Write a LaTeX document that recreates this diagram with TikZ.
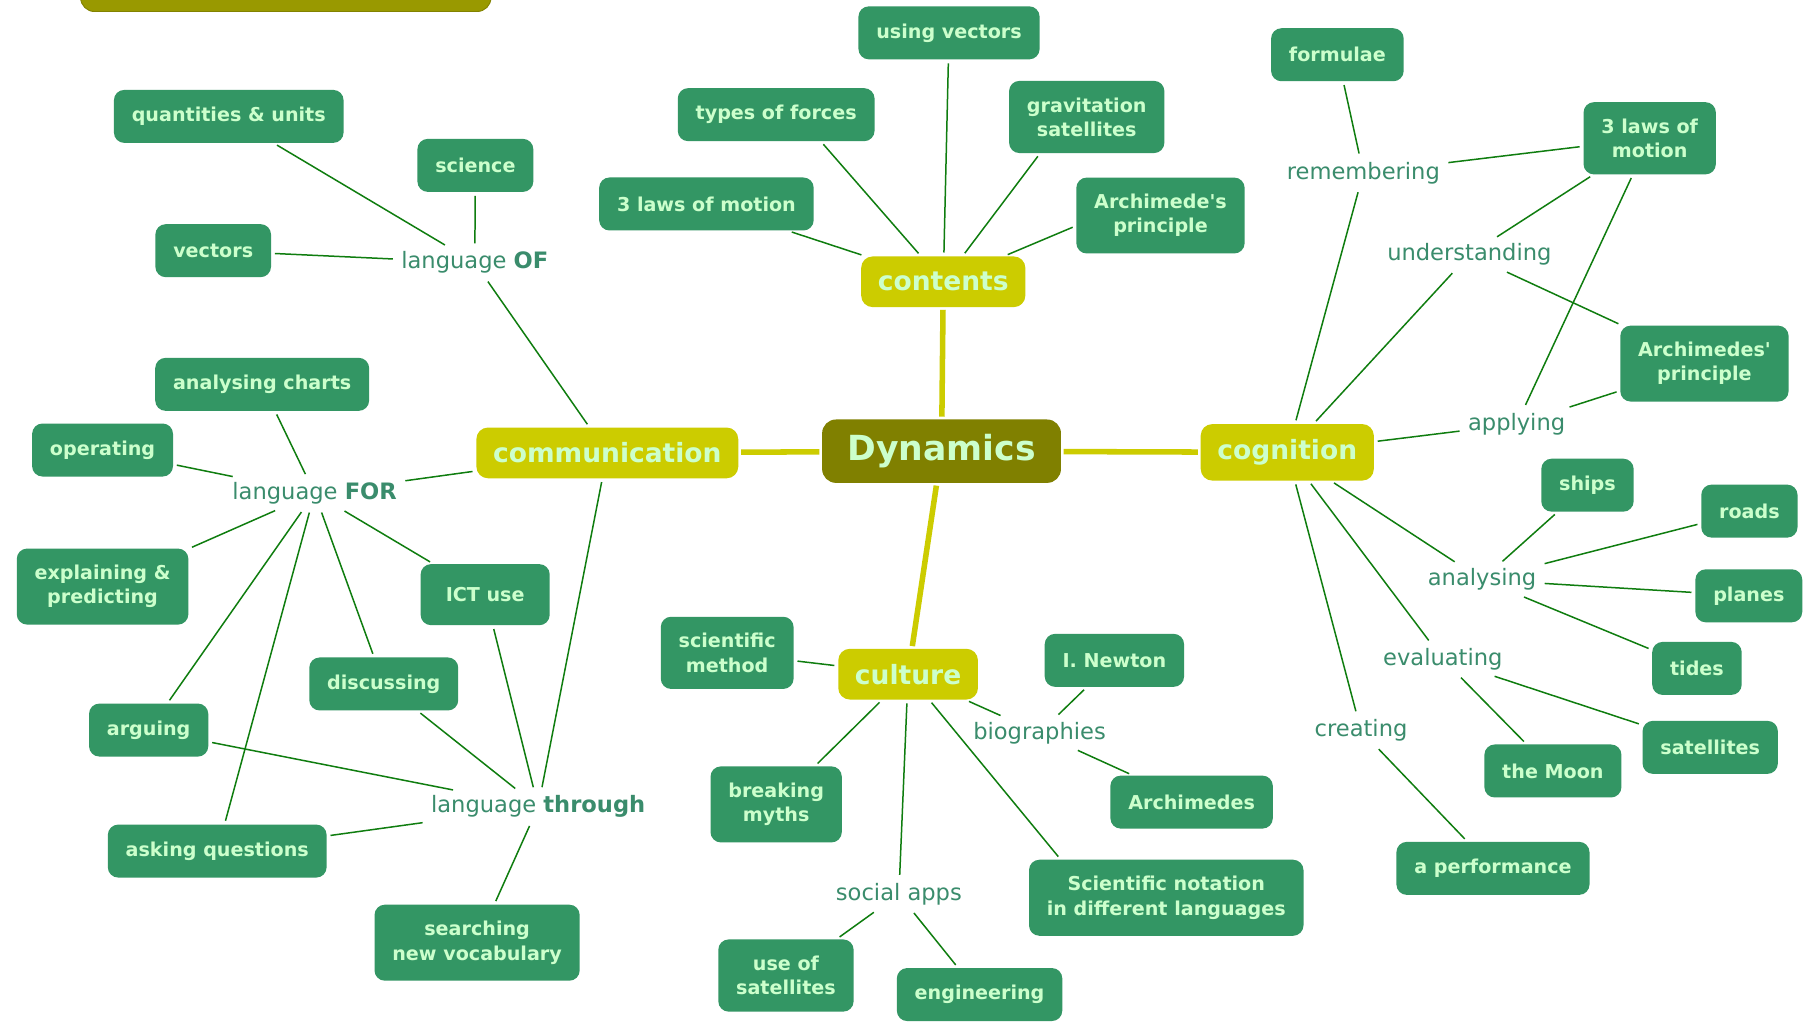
\documentclass[tikz,border=0pt]{standalone}
\usepackage{fontspec}
\setmainfont{DejaVu Sans}
\usepackage{tikz}
\definecolor{leafgreen}{RGB}{51,150,100}
\definecolor{leaftext}{RGB}{204,255,204}
\definecolor{wordgreen}{RGB}{58,140,108}
\definecolor{twiggreen}{RGB}{15,125,15}
\definecolor{topicyellow}{RGB}{204,204,0}
\definecolor{rootolive}{RGB}{128,128,0}
\definecolor{barolive}{RGB}{153,153,0}
\tikzset{
	leaf/.style={fill=leafgreen,rounded corners=4.5pt,text=leaftext,font=\fontsize{8.3}{10.5}\selectfont\bfseries,align=center,inner xsep=7.75pt,inner ysep=7.2pt,minimum height=23pt},
	topic/.style={fill=topicyellow,rounded corners=5pt,text=leaftext,font=\fontsize{11.5}{13}\selectfont\bfseries,inner xsep=7.25pt,minimum height=22pt},
	word/.style={text=wordgreen,font=\fontsize{9.8}{12}\selectfont,inner sep=2pt},
	twig/.style={draw=twiggreen,line width=0.65pt,shorten <=1.5pt,shorten >=1.5pt},
	branch/.style={draw=topicyellow,line width=2.4pt,shorten <=1pt,shorten >=1pt}
}
\begin{document}
\begin{tikzpicture}[x=0.5pt,y=-0.5pt] % 按像素坐标放置
				\useasboundingbox[fill=white] (0,0) rectangle (1568,889);
				\draw[barolive!85!black,fill=barolive,rounded corners=6pt] (70,-30) rectangle (426,10);
				\node[fill=rootolive,rounded corners=6pt,text=leaftext,font=\fontsize{15}{17}\selectfont\bfseries,inner xsep=11pt,minimum height=27.5pt](D) at (817,391.5) {Dynamics};
				\node[topic](T1) at (818.5,244.5) {contents};\node[topic](T2) at (527,393) {communication};
				\node[topic,minimum height=24.5pt](T3) at (1117,392.5) {cognition};\node[topic](T4) at (788,585) {culture};
				\node[leaf](A1) at (823.5,28.5) {using vectors};\node[leaf](A2) at (673.5,99.5) {types of forces};
				\node[leaf](A3) at (943,101.5) {gravitation\\satellites};\node[leaf](A4) at (613,177) {3 laws of motion};
				\node[leaf](A5) at (1007,187) {Archimede\textquotesingle s\\principle};
				\node[word](L1) at (1183,150) {remembering};\node[word](L2) at (1275,221) {understanding};
				\node[word](L3) at (1316,368) {applying};\node[word](L4) at (1286,503) {analysing};
				\node[word](L5) at (1252,572) {evaluating};\node[word](L6) at (1181,634) {creating};
				\node[leaf](B1) at (1160.5,47.5) {formulae};\node[leaf](B2) at (1431.5,120) {3 laws of\\motion};
				\node[leaf](B3) at (1479,315.5) {Archimedes\textquotesingle\\principle};\node[leaf](B4) at (1377.5,421) {ships};
				\node[leaf](B5) at (1518,443.5) {roads};\node[leaf](B6) at (1517.5,517) {planes};
				\node[leaf](B7) at (1472.5,580) {tides};\node[leaf](B8) at (1484,648.5) {satellites};
				\node[leaf](B9) at (1347.5,669) {the Moon};\node[leaf](B10) at (1295.5,753.5) {a performance};
				\node[word](L7) at (902,636) {biographies};\node[word](L8) at (780,776) {social apps};
				\node[leaf](U1) at (631,566.5) {scientific\\method};\node[leaf](U2) at (673.5,698) {breaking\\myths};
				\node[leaf](U3) at (967,573) {I. Newton};\node[leaf](U4) at (1034,696) {Archimedes};
				\node[leaf](U5) at (1012,779) {Scientific notation\\in different languages};
				\node[leaf](U6) at (682,846.5) {use of\\satellites};\node[leaf](U7) at (850,863) {engineering};
				\node[word](L9) at (412,228) {language \textbf{OF}};\node[word](L10) at (273,428) {language \textbf{FOR}};
				\node[word](L11) at (467,700) {language \textbf{through}};
				\node[leaf](M1) at (198.5,101) {quantities \& units};\node[leaf](M2) at (412.5,143.5) {science};
				\node[leaf](M3) at (185,217.5) {vectors};\node[leaf](M4) at (227.5,333.5) {analysing charts};
				\node[leaf](M5) at (89,390.5) {operating};\node[leaf](M6) at (89,509) {explaining \&\\predicting};
				\node[leaf,minimum width=56pt,minimum height=26.5pt](M7) at (421,516) {ICT use};\node[leaf](M8) at (333,593.5) {discussing};
				\node[leaf](M9) at (129,633.5) {arguing};\node[leaf](M10) at (188.5,738.5) {asking questions};
				\node[leaf](M11) at (414,818) {searching\\new vocabulary};
				\draw[branch] (D) -- (T1);\draw[branch] (D) -- (T2);\draw[branch] (D) -- (T3);\draw[branch] (D) -- (T4);
				\draw[twig] (T1) -- (A1);\draw[twig] (T1) -- (A2.329);\draw[twig] (T1) -- (A3.218);\draw[twig] (T1) -- (A4);\draw[twig] (T1) -- (A5.187);
				\draw[twig] (T3) -- (L1);\draw[twig] (T3) -- (L2);\draw[twig] (T3) -- (L3);\draw[twig] (T3) -- (L4);\draw[twig] (T3) -- (L5);\draw[twig] (T3) -- (L6);
				\draw[twig] (L1) -- (B1);\draw[twig] (L1) -- (B2);\draw[twig] (L2) -- (B2);\draw[twig] (L2) -- (B3);\draw[twig] (L3) -- (B2);\draw[twig] (L3) -- (B3);
				\draw[twig] (L4) -- (B4);\draw[twig] (L4) -- (B5);\draw[twig] (L4) -- (B6);\draw[twig] (L4) -- (B7);
				\draw[twig] (L5) -- (B8);\draw[twig] (L5) -- (B9);\draw[twig] (L6) -- (B10);
				\draw[twig] (T4) -- (U1);\draw[twig] (T4) -- (U2);\draw[twig] (T4) -- (L7);\draw[twig] (T4) -- (L8);\draw[twig] (T4) -- (U5.160);
				\draw[twig] (L7) -- (U3);\draw[twig] (L7) -- (U4);\draw[twig] (L8) -- (U6);\draw[twig] (L8) -- (U7);
				\draw[twig] (T2) -- (L9);\draw[twig] (T2) -- (L10);\draw[twig] (T2) -- (L11);
				\draw[twig] (L9) -- (M1);\draw[twig] (L9) -- (M2);\draw[twig] (L9) -- (M3);
				\draw[twig] (L10) -- (M4);\draw[twig] (L10) -- (M5);\draw[twig] (L10) -- (M6);\draw[twig] (L10) -- (M7);\draw[twig] (L10) -- (M8);\draw[twig] (L10) -- (M9);\draw[twig] (L10) -- (M10);
				\draw[twig] (L11) -- (M7);\draw[twig] (L11) -- (M8);\draw[twig] (L11) -- (M9);\draw[twig] (L11) -- (M10);\draw[twig] (L11) -- (M11);
			\end{tikzpicture}
\end{document}
